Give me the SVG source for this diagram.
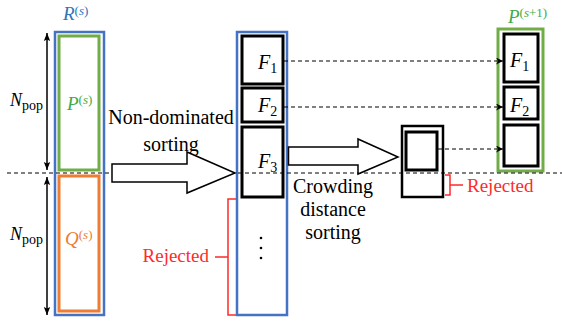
<svg xmlns="http://www.w3.org/2000/svg" width="562" height="323" viewBox="0 0 562 323">
<defs>
<marker id="ah" viewBox="0 0 10 10" refX="10" refY="5" markerWidth="7" markerHeight="7" orient="auto-start-reverse" markerUnits="userSpaceOnUse">
<path d="M0,0 L10,5 L0,10 L3,5 z" fill="#000"/>
</marker>
<marker id="ad" viewBox="0 0 10 10" refX="10" refY="5" markerWidth="8" markerHeight="8" orient="auto-start-reverse" markerUnits="userSpaceOnUse">
<path d="M0,1 L10,5 L0,9 L2,5 z" fill="#000"/>
</marker>
</defs>
<g font-family="Liberation Serif" font-size="20">

<g id="R">
<rect x="55" y="32" width="49" height="283" fill="none" stroke="#4472C4" stroke-width="2.5"/>
<text x="63" y="20" fill="#2E75B6"><tspan font-style="italic" font-size="19">R</tspan><tspan font-size="13" dy="-5">(<tspan font-style="italic">s</tspan>)</tspan></text>
</g>
<g id="P">
<rect x="59" y="36" width="40" height="134" fill="none" stroke="#70AD47" stroke-width="3"/>
<text x="67" y="110" fill="#3DAA4A"><tspan font-style="italic" font-size="19">P</tspan><tspan font-size="13" dy="-6">(<tspan font-style="italic">s</tspan>)</tspan></text>
</g>
<g id="Q">
<rect x="59" y="176" width="40" height="135" fill="none" stroke="#ED7D31" stroke-width="3"/>
<text x="65" y="245" fill="#ED7D31"><tspan font-style="italic" font-size="19">Q</tspan><tspan font-size="13" dy="-6">(<tspan font-style="italic">s</tspan>)</tspan></text>
</g>
<g id="Npop-labels" fill="#000">
<text x="10" y="106"><tspan font-style="italic" font-size="18">N</tspan><tspan font-size="14" dy="4">pop</tspan></text>
<text x="10" y="240"><tspan font-style="italic" font-size="18">N</tspan><tspan font-size="14" dy="4">pop</tspan></text>
</g>
<g id="nds-label" fill="#000" text-anchor="middle">
<text x="171" y="124">Non-dominated</text>
<text x="171" y="151">sorting</text>
</g>

<g id="fronts">
<rect x="237" y="32" width="50" height="283" fill="none" stroke="#4472C4" stroke-width="2.5"/>
<g fill="#fff" stroke="#000" stroke-width="3">
<rect x="242" y="36" width="41" height="48"/>
<rect x="242" y="88" width="41" height="34"/>
<rect x="242" y="127" width="41" height="70"/>
</g>
<text x="258" y="69"><tspan font-style="italic">F</tspan><tspan font-size="14" dy="4">1</tspan></text>
<text x="258" y="112"><tspan font-style="italic">F</tspan><tspan font-size="14" dy="4">2</tspan></text>
<text x="258" y="168"><tspan font-style="italic">F</tspan><tspan font-size="14" dy="4">3</tspan></text>
<circle cx="261" cy="238" r="1.3" fill="#000"/>
<circle cx="261" cy="248" r="1.3" fill="#000"/>
<circle cx="261" cy="258" r="1.3" fill="#000"/>
</g>

<g id="rejected-left">
<path d="M236,199 H228 V315 H236 M228,257 H215" fill="none" stroke="#FF2A2A" stroke-width="1.5"/>
<text x="209" y="262" font-size="19" fill="#FF2A2A" text-anchor="end">Rejected</text>
</g>

<g id="cds-label" fill="#000" text-anchor="middle">
<text x="333" y="193">Crowding</text>
<text x="333" y="216">distance</text>
<text x="333" y="239">sorting</text>
</g>

<g id="F3-split">
<rect x="402" y="126" width="41" height="71" fill="#fff" stroke="#000" stroke-width="2.5"/>
<rect x="406" y="132" width="31" height="38" fill="#fff" stroke="#000" stroke-width="3"/>
</g>

<g id="rejected-right">
<path d="M445,175 H450 V195 H445 M450,185 H463" fill="none" stroke="#FF2A2A" stroke-width="1.5"/>
<text x="467" y="192" font-size="19" fill="#FF2A2A">Rejected</text>
</g>

<g id="P-next">
<rect x="498" y="29" width="45" height="142" fill="none" stroke="#70AD47" stroke-width="3"/>
<text x="508" y="23" fill="#3DAA4A"><tspan font-style="italic" font-size="19">P</tspan><tspan font-size="13" dy="-6">(<tspan font-style="italic">s</tspan>+1)</tspan></text>
<g fill="#fff" stroke="#000" stroke-width="3">
<rect x="504" y="34" width="34" height="48"/>
<rect x="504" y="87" width="34" height="32"/>
<rect x="504" y="125" width="34" height="41"/>
</g>
<text x="510" y="67"><tspan font-style="italic">F</tspan><tspan font-size="14" dy="4">1</tspan></text>
<text x="510" y="112"><tspan font-style="italic">F</tspan><tspan font-size="14" dy="4">2</tspan></text>
</g>

<g id="connectors">
<line x1="7" y1="173" x2="562" y2="173" stroke="#000" stroke-width="1" stroke-dasharray="4,3"/>
<line x1="47" y1="33" x2="47" y2="170" stroke="#000" stroke-width="1.5" marker-start="url(#ad)" marker-end="url(#ad)"/>
<line x1="47" y1="177" x2="47" y2="315" stroke="#000" stroke-width="1.5" marker-start="url(#ad)" marker-end="url(#ad)"/>
<g stroke="#000" stroke-width="1.2" stroke-dasharray="4,3" fill="none">
<line x1="284" y1="61" x2="503" y2="61" marker-end="url(#ah)"/>
<line x1="284" y1="107" x2="503" y2="107" marker-end="url(#ah)"/>
<line x1="438" y1="149" x2="503" y2="149" marker-end="url(#ah)"/>
</g>
<g fill="#fff" stroke="#000" stroke-width="1.5">
<polygon id="arrow-nds" points="112,164 187,164 187,152 235,173 187,193 187,182 112,182"/>
<polygon id="arrow-cds" points="288.5,147 358,147 358,139 398,157 358,174 358,165 288.5,165"/>
</g>
</g>
</g>
</svg>
